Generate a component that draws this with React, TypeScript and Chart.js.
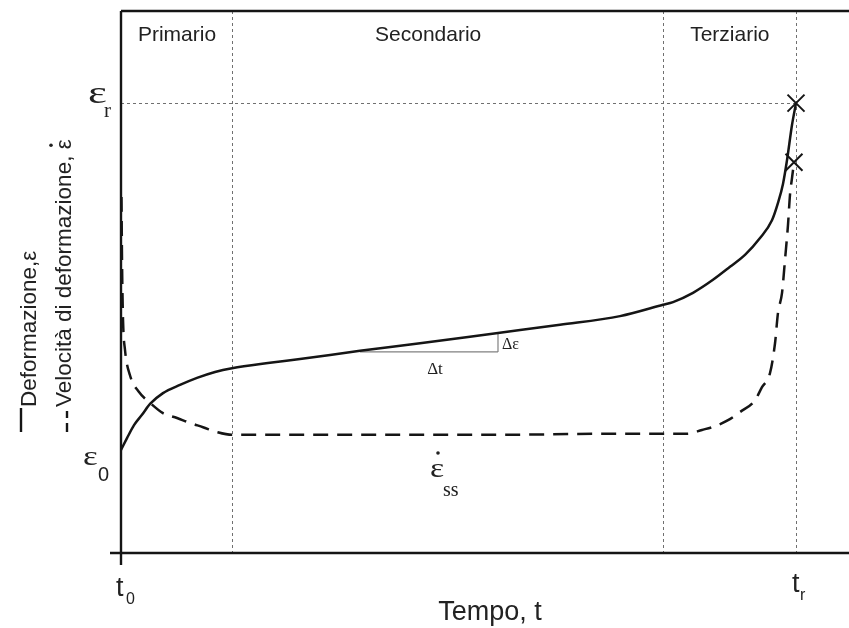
import { useEffect, useRef } from "react";
import { Chart, registerables } from "chart.js";

Chart.register(...registerables);

// Creep curve: strain (solid) and strain rate (dashed) against time, t0 = 0, tr = 100
const strainT = [0, 0.89, 1.93, 3.11, 4.3, 6.22, 8.74, 11.26, 13.93, 16.44, 22.07, 26.52, 35.41, 44.3, 55.85, 65.04, 73.93, 80.3, 81.78, 84.74, 87.7, 90.22, 92.44, 94.67, 96.44, 97.33, 98.07, 98.67, 99.41, 100];
const strainE = [19.0, 21.2, 23.6, 25.5, 27.5, 29.5, 31.0, 32.3, 33.4, 34.1, 35.1, 35.8, 37.3, 38.7, 40.6, 42.1, 43.7, 45.8, 46.3, 48.0, 50.4, 52.8, 55.0, 58.1, 61.4, 64.6, 68.1, 72.5, 79.0, 83.0];

const rateT = [0.07, 0.15, 0.3, 0.59, 1.33, 2.67, 4.3, 6.22, 8.3, 10.22, 12.15, 14.22, 16.44, 26.52, 41.33, 56.15, 70.96, 80.3, 83.85, 86.07, 88.0, 89.93, 91.7, 93.93, 94.96, 96.15, 96.89, 97.33, 97.93, 98.37, 98.81, 99.11, 99.41, 99.7];
const rateV = [65.7, 54.1, 43.0, 37.5, 32.8, 29.7, 27.7, 25.8, 24.9, 24.0, 23.2, 22.3, 21.8, 21.8, 21.8, 21.8, 22.0, 22.0, 22.0, 22.7, 23.4, 24.5, 26.0, 28.2, 30.6, 33.2, 38.7, 44.3, 48.0, 54.1, 60.5, 66.1, 69.2, 72.1];

// Stage boundaries and stage names
const phaseBounds = [16.44, 80.3, 100];
const phaseNames = ["Primario", "Secondario", "Terziario"];
const phaseLabelX = [8.3, 45.5, 90.2];

const ruptureTime = 100;
const ruptureStrain = 83.0;

// Slope triangle on the secondary stage
const slopeT = [35.41, 55.85];
const slopeE = [37.1, 40.6];

const X_MAX = 107.85;
const SANS = '"Liberation Sans", Arial, sans-serif';
const SERIF = '"Liberation Serif", "Times New Roman", serif';
const INK = "#151515";

function makePoints(xs: number[], ys: number[]) {
  return xs.map((x, i) => ({ x, y: ys[i] }));
}

const creepAnnotations = {
  id: "creepAnnotations",
  beforeDatasetsDraw(chart: any) {
    const { ctx, chartArea: a } = chart;
    const xs = chart.scales.x;
    const ys = chart.scales.y;
    const seg = (x1: number, y1: number, x2: number, y2: number) => {
      ctx.beginPath();
      ctx.moveTo(x1, y1);
      ctx.lineTo(x2, y2);
      ctx.stroke();
    };
    ctx.save();
    ctx.strokeStyle = "#707070";
    ctx.lineWidth = 1;
    ctx.setLineDash([3, 3]);
    for (const b of phaseBounds) {
      const px = Math.round(xs.getPixelForValue(b)) + 0.5;
      seg(px, a.top, px, a.bottom);
    }
    const ry = Math.round(ys.getPixelForValue(ruptureStrain)) + 0.5;
    seg(a.left, ry, xs.getPixelForValue(ruptureTime), ry);

    ctx.setLineDash([]);
    ctx.strokeStyle = "#808080";
    ctx.lineWidth = 1.2;
    const x1 = xs.getPixelForValue(slopeT[0]);
    const x2 = xs.getPixelForValue(slopeT[1]);
    const y1 = ys.getPixelForValue(slopeE[0]);
    const y2 = ys.getPixelForValue(slopeE[1]);
    seg(x1, y1, x2, y1);
    seg(x2, y1, x2, y2);
    ctx.restore();
  },
  afterDraw(chart: any) {
    const { ctx, chartArea: a } = chart;
    const xs = chart.scales.x;
    const ys = chart.scales.y;
    const seg = (x1: number, y1: number, x2: number, y2: number) => {
      ctx.beginPath();
      ctx.moveTo(x1, y1);
      ctx.lineTo(x2, y2);
      ctx.stroke();
    };
    ctx.save();
    // frame: left axis, bottom axis (both overshooting a little), top border
    ctx.strokeStyle = INK;
    ctx.lineWidth = 2.4;
    seg(a.left, a.top, a.left, a.bottom + 12);
    seg(a.left - 11, a.bottom, a.right, a.bottom);
    seg(a.left, a.top, a.right, a.top);

    ctx.fillStyle = "#222";
    ctx.textBaseline = "alphabetic";

    // stage names
    ctx.font = `21px ${SANS}`;
    ctx.textAlign = "center";
    phaseNames.forEach((n, i) => {
      ctx.fillText(n, xs.getPixelForValue(phaseLabelX[i]), a.top + 30);
    });

    const bigEps = (x: number, y: number, size: number, sx: number) => {
      ctx.save();
      ctx.translate(x, y);
      ctx.scale(sx, 1);
      ctx.font = `${size}px ${SERIF}`;
      ctx.textAlign = "left";
      ctx.fillText("ε", 0, 0);
      ctx.restore();
    };

    // εr
    const yr = ys.getPixelForValue(ruptureStrain);
    bigEps(a.left - 33, yr, 32, 1.4);
    ctx.font = `21px ${SERIF}`;
    ctx.textAlign = "left";
    ctx.fillText("r", a.left - 17, yr + 14);

    // ε0
    const y0 = ys.getPixelForValue(strainE[0]);
    bigEps(a.left - 38, y0 + 15, 28, 1.25);
    ctx.font = `20px ${SANS}`;
    ctx.fillText("0", a.left - 23, y0 + 31);

    // t0 and tr
    const xt0 = xs.getPixelForValue(0);
    const xtr = xs.getPixelForValue(ruptureTime);
    ctx.font = `27px ${SANS}`;
    ctx.fillText("t", xt0 - 5, a.bottom + 43);
    ctx.fillText("t", xtr - 4, a.bottom + 39);
    ctx.font = `16px ${SANS}`;
    ctx.fillText("0", xt0 + 5, a.bottom + 51);
    ctx.fillText("r", xtr + 4, a.bottom + 47);

    // x axis title
    ctx.font = `27px ${SANS}`;
    ctx.textAlign = "center";
    ctx.fillText("Tempo, t", 490, a.bottom + 67);

    // slope labels
    ctx.font = `17px ${SERIF}`;
    ctx.textAlign = "center";
    ctx.fillText("Δt", (xs.getPixelForValue(slopeT[0]) + xs.getPixelForValue(slopeT[1])) / 2 + 6, ys.getPixelForValue(slopeE[0]) + 22);
    ctx.textAlign = "left";
    ctx.font = `16px ${SERIF}`;
    ctx.fillText("Δε", xs.getPixelForValue(slopeT[1]) + 4, ys.getPixelForValue(slopeE[0]) - 3);

    // steady-state rate label
    bigEps(430, 477, 28, 1.2);
    ctx.beginPath();
    ctx.arc(438, 453, 1.8, 0, Math.PI * 2);
    ctx.fill();
    ctx.font = `20px ${SERIF}`;
    ctx.fillText("ss", 443, 496);

    // legend along the left edge
    ctx.font = `22.5px ${SANS}`;
    ctx.textAlign = "left";
    ctx.save();
    ctx.translate(36, 407);
    ctx.rotate(-Math.PI / 2);
    ctx.fillText("Deformazione,ε", 0, 0);
    ctx.restore();
    ctx.save();
    ctx.translate(71, 407);
    ctx.rotate(-Math.PI / 2);
    ctx.fillText("Velocità di deformazione, ε", 0, 0);
    const w = ctx.measureText("Velocità di deformazione, ε").width;
    ctx.beginPath();
    ctx.arc(w - 6, -20, 1.8, 0, Math.PI * 2);
    ctx.fill();
    ctx.restore();

    ctx.strokeStyle = INK;
    ctx.lineWidth = 2.4;
    seg(21, 408, 21, 432);
    seg(67, 411, 67, 418);
    seg(67, 423, 67, 432);
    ctx.restore();
  },
};

export default function App() {
  const ref = useRef<HTMLCanvasElement | null>(null);

  useEffect(() => {
    if (!ref.current) return;
    const lastS = strainT.length - 1;
    const lastR = rateT.length - 1;
    const chart = new Chart(ref.current, {
      type: "line",
      data: {
        datasets: [
          {
            label: "Deformazione, ε",
            data: makePoints(strainT, strainE),
            borderColor: INK,
            borderWidth: 2.5,
            cubicInterpolationMode: "monotone",
            pointStyle: "crossRot",
            pointRadius: strainT.map((_, i) => (i === lastS ? 12 : 0)),
            pointBorderColor: INK,
            pointBorderWidth: 2,
            fill: false,
            clip: false,
          },
          {
            label: "Velocità di deformazione",
            data: makePoints(rateT, rateV),
            borderColor: INK,
            borderWidth: 2.5,
            borderDash: [15, 9],
            cubicInterpolationMode: "monotone",
            pointStyle: "crossRot",
            pointRadius: rateT.map((_, i) => (i === lastR ? 12 : 0)),
            pointBorderColor: INK,
            pointBorderWidth: 2,
            fill: false,
            clip: false,
          },
        ],
      },
      options: {
        animation: false,
        responsive: false,
        layout: { autoPadding: false, padding: { left: 121, top: 11, right: 0, bottom: 75 } },
        scales: {
          x: { type: "linear", min: 0, max: X_MAX, display: false },
          y: { type: "linear", min: 0, max: 100, display: false },
        },
        plugins: { legend: { display: false }, tooltip: { enabled: false } },
      },
      plugins: [creepAnnotations],
    });
    return () => chart.destroy();
  }, []);

  return (
    <div style={{ position: "fixed", left: 0, top: 0, width: 849, height: 628, background: "#fff" }}>
      <canvas ref={ref} width={849} height={628} style={{ display: "block" }} />
    </div>
  );
}
